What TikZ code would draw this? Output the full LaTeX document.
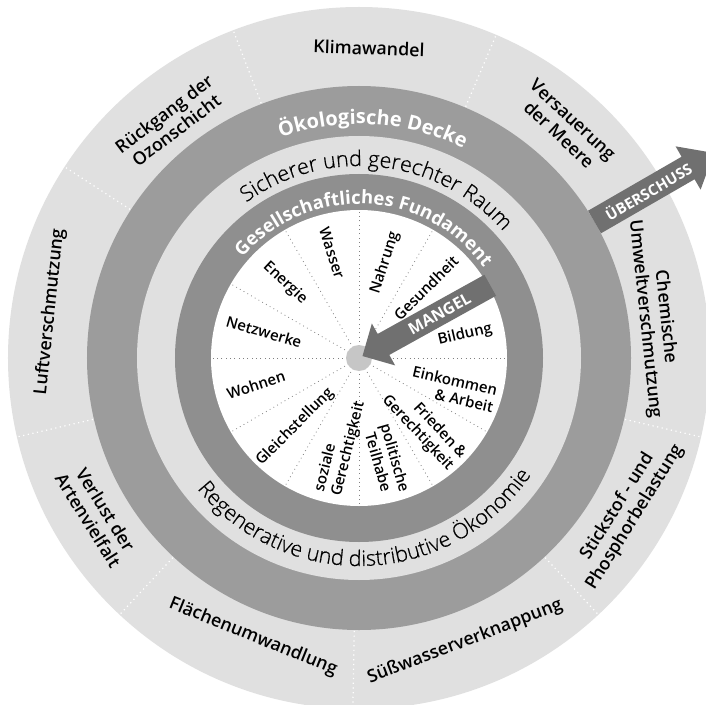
\documentclass[tikz,border=0pt]{standalone}
\usepackage{fontspec}
\setmainfont{Open Sans}
\IfFontExistsTF{Open Sans Semibold}{\newfontfamily\semi{Open Sans Semibold}}{%
  \IfFontExistsTF{Open Sans SemiBold}{\newfontfamily\semi{Open Sans SemiBold}}{\newfontfamily\semi{Open Sans}}}
\IfFontExistsTF{Open Sans Light}{\newfontfamily\light{Open Sans Light}[FakeBold=0.6]}{\newfontfamily\light{Open Sans}}
\usetikzlibrary{decorations.text}

\begin{document}
\begin{tikzpicture}[x=1pt,y=1pt,
  need/.style={font=\semi\fontsize{15}{17.5}\selectfont,inner sep=0pt},
  bound/.style={font=\semi\fontsize{17.8}{20.5}\selectfont,align=center,inner sep=0pt},
  arrowlabel/.style={font=\bfseries\fontsize{15}{18}\selectfont,text=white,inner sep=0pt,transform shape},
  arctext/.style={decorate,decoration={text along path,text align=center,text={#1}}}]

\definecolor{ringgray}{gray}{0.88}
\definecolor{ceilgray}{gray}{0.61}
\definecolor{basegray}{gray}{0.56}
\definecolor{arrowgray}{gray}{0.44}

\clip (-359,-346) rectangle (347,358);
\fill[white] (-359,-346) rectangle (347,358);

% Ringe
\fill[ringgray] (0,0) circle (351);
\fill[ceilgray] (0,0) circle (272);
\fill[ringgray] (0,0) circle (222);
\fill[basegray] (0,0) circle (184);
\fill[white] (0,0) circle (148);

\foreach \a in {67,111,147,193,227,269,313,347}{
	\draw[white,line width=1.2pt,dash pattern=on 1.2pt off 3.5pt] (\a:273)--(\a:350);
}
\foreach \a in {0,30,...,330}{
	\draw[gray,line width=0.8pt,dash pattern=on 0.8pt off 3.5pt] (\a:12)--(\a:147);
}
\fill[gray!45] (0,0) circle (13);

% Texte auf den Ringen
\path[arctext={|\bfseries\color{white}\fontsize{20}{24}\selectfont|Ökologische Decke}]
	(146.5:234) arc[start angle=146.5,end angle=26.5,radius=234];
\path[arctext={|\light\fontsize{21.5}{25}\selectfont|Sicherer und gerechter Raum}]
	(143.6:192) arc[start angle=143.6,end angle=23.6,radius=192];
\path[arctext={|\bfseries\color{white}\fontsize{18.5}{22}\selectfont|Gesellschaftliches Fundament}]
	(147.5:154) arc[start angle=147.5,end angle=27.5,radius=154];
\path[arctext={|\light\fontsize{21.5}{25}\selectfont|Regenerative und distributive Ökonomie}]
	(207.4:208) arc[start angle=207.4,end angle=337.4,radius=208];

% Grenzen
\node[bound,rotate=-2] (klima) at (10,310) {Klimawandel};
\node[bound,rotate=-43] (meere) at (207,231) {Versauerung\\der Meere};
\node[bound,rotate=37] (ozon) at (-189,236) {Rückgang der\\Ozonschicht};
\node[bound,rotate=84] (luft) at (-309,46) {Luftverschmutzung};
\node[bound,rotate=-84] (chemie) at (296,40) {Chemische\\Umweltverschmutzung};
\node[bound,rotate=58] (stickstoff) at (267,-154) {Stickstof - und\\Phosphorbelastung};
\node[bound,rotate=21] (wasserknapp) at (106,-284) {Süßwasserverknappung};
\node[bound,rotate=-22] (flaeche) at (-106,-279) {Flächenumwandlung};
\node[bound,rotate=-58] (arten) at (-262,-157) {Verlust der\\Artenvielfalt};

% Grundbedarf
\node[need,rotate=-72] (wasser) at (-27,105) {Wasser};
\node[need,rotate=72] (nahrung) at (26,95) {Nahrung};
\node[need,rotate=45] (gesundheit) at (67,70) {Gesundheit};
\node[need,rotate=13] (bildung) at (106,23) {Bildung};
\node[need,rotate=-13,align=right] (einkommen) at (94,-31) {Einkommen\\\& Arbeit};
\node[need,rotate=-47,align=right] (frieden) at (65,-69) {Frieden \&\\Gerechtigkeit};
\node[need,rotate=-74,align=center] (politik) at (28,-102) {politische\\Teilhabe};
\node[need,rotate=76,align=left] (sozial) at (-19,-89) {soziale\\Gerechtigkeit};
\node[need,rotate=45] (gleich) at (-64,-69) {Gleichstellung};
\node[need,rotate=18] (wohnen) at (-103,-27) {Wohnen};
\node[need,rotate=-16] (netz) at (-95,26) {Netzwerke};
\node[need,rotate=-43] (energie) at (-74,75) {Energie};

% Pfeile
\begin{scope}[rotate=29]
\fill[arrowgray] (150,12)--(28,12)--(28,24)--(4,0)--(28,-24)--(28,-12)--(150,-12)--cycle;
\node[arrowlabel,font=\bfseries\fontsize{16}{18}\selectfont] (mangel) at (92,0) {MANGEL};
\end{scope}
\begin{scope}[rotate=30]
\fill[arrowgray] (272,13)--(380,13)--(380,25)--(410,0)--(380,-25)--(380,-13)--(272,-13)--cycle;
\node[arrowlabel] (ueberschuss) at (334,0) {ÜBERSCHUSS};
\end{scope}

\end{tikzpicture}
\end{document}
